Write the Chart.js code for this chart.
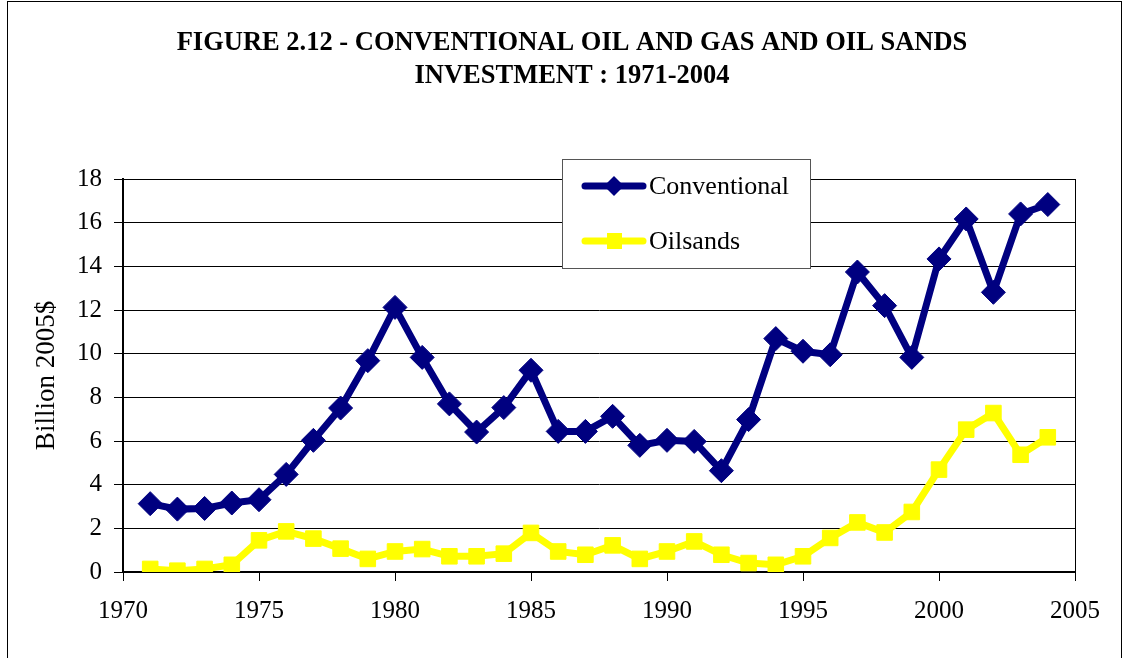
<!DOCTYPE html>
<html>
<head>
<meta charset="utf-8">
<script src="https://cdn.jsdelivr.net/npm/chart.js@4"></script>
<style>
  html, body { margin: 0; padding: 0; background: #fff; }
  #wrap { width: 1132px; height: 658px; }
</style>
</head>
<body>
<div id="wrap"><canvas id="investChart" width="1132" height="658"></canvas></div>
<script>
    // Investment data, billion 2005$
    var years = [1971, 1972, 1973, 1974, 1975, 1976, 1977, 1978, 1979, 1980,
                 1981, 1982, 1983, 1984, 1985, 1986, 1987, 1988, 1989, 1990,
                 1991, 1992, 1993, 1994, 1995, 1996, 1997, 1998, 1999, 2000,
                 2001, 2002, 2003, 2004];
    var conventional = [3.13, 2.88, 2.91, 3.16, 3.31, 4.47, 6.03, 7.51, 9.68, 12.12,
                        9.83, 7.70, 6.41, 7.53, 9.24, 6.44, 6.44, 7.13, 5.80, 6.03,
                        5.98, 4.64, 6.98, 10.69, 10.11, 9.95, 13.74, 12.20, 9.83, 14.34,
                        16.17, 12.81, 16.40, 16.83];
    var oilsands = [0.14, 0.06, 0.14, 0.33, 1.45, 1.86, 1.53, 1.07, 0.60, 0.94,
                    1.05, 0.72, 0.72, 0.84, 1.79, 0.94, 0.79, 1.22, 0.60, 0.94,
                    1.40, 0.79, 0.41, 0.33, 0.72, 1.56, 2.27, 1.81, 2.75, 4.69,
                    6.52, 7.28, 5.37, 6.17];
    var titleLines = ['FIGURE 2.12 - CONVENTIONAL OIL AND GAS AND OIL SANDS',
                      'INVESTMENT : 1971-2004'];

    function toPoints(vals) {
        return years.map(function (y, i) { return { x: y, y: vals[i] }; });
    }

    var serif = "'Liberation Serif', 'Times New Roman', serif";

    // frame, title, right border of plot, legend box
    var decor = {
        id: 'decor',
        afterDraw: function (chart) {
            var c = chart.ctx, a = chart.chartArea;
            c.save();
            c.strokeStyle = '#000';
            c.lineWidth = 1;
            c.strokeRect(7.5, 1.5, 1114, 670);

            c.beginPath();
            c.moveTo(Math.round(a.right) + 0.5, a.top);
            c.lineTo(Math.round(a.right) + 0.5, a.bottom);
            c.stroke();

            c.fillStyle = '#000';
            c.font = 'bold 26.5px ' + serif;
            c.textAlign = 'center';
            c.textBaseline = 'middle';
            c.fillText(titleLines[0], 572, 43);
            c.fillText(titleLines[1], 572, 76);

            // legend
            c.fillStyle = '#fff';
            c.fillRect(562, 159, 248, 109);
            c.strokeStyle = '#555';
            c.strokeRect(562.5, 159.5, 248, 109);
            var rows = [186, 241];
            chart.data.datasets.forEach(function (ds, i) {
                var y = rows[i];
                c.strokeStyle = ds.borderColor;
                c.lineWidth = 7;
                c.lineCap = 'round';
                c.beginPath();
                c.moveTo(585, y);
                c.lineTo(643, y);
                c.stroke();
                c.fillStyle = ds.borderColor;
                c.beginPath();
                if (ds.pointStyle === 'rectRot') {
                    c.moveTo(614, y - 10); c.lineTo(624, y); c.lineTo(614, y + 10); c.lineTo(604, y);
                } else {
                    c.rect(607, y - 8, 15, 16);
                }
                c.closePath();
                c.fill();
                c.fillStyle = '#000';
                c.font = '26px ' + serif;
                c.textAlign = 'left';
                c.fillText(ds.label, 649, y + 1);
            });
            c.restore();
        }
    };

    var ctx = document.getElementById('investChart').getContext('2d');

    var investChart = new Chart(ctx, {
        type: 'line',
        data: {
            datasets: [{
                label: 'Conventional',
                data: toPoints(conventional),
                borderColor: '#000080',
                backgroundColor: '#000080',
                borderWidth: 7,
                pointStyle: 'rectRot',
                pointRadius: 12,
                pointBorderWidth: 1,
                tension: 0
            }, {
                label: 'Oilsands',
                data: toPoints(oilsands),
                borderColor: '#FFFF00',
                backgroundColor: '#FFFF00',
                borderWidth: 7,
                pointStyle: 'rect',
                pointRadius: 11,
                pointBorderWidth: 1,
                tension: 0
            }]
        },
        options: {
            responsive: false,
            animation: false,
            layout: { padding: { left: 0, top: 179, right: 57, bottom: 0 } },
            plugins: {
                legend: { display: false },
                tooltip: { enabled: false }
            },
            scales: {
                x: {
                    type: 'linear',
                    min: 1970,
                    max: 2005,
                    afterFit: function (s) { s.height = 86; },
                    ticks: {
                        stepSize: 5,
                        color: '#000',
                        font: { family: serif, size: 25 },
                        padding: 15,
                        callback: function (v) { return String(v); }
                    },
                    grid: {
                        drawOnChartArea: false,
                        tickLength: 9,
                        color: '#000'
                    },
                    border: { color: '#000', width: 2 }
                },
                y: {
                    min: 0,
                    max: 18,
                    afterFit: function (s) { s.width = 123; },
                    ticks: {
                        stepSize: 2,
                        color: '#000',
                        font: { family: serif, size: 25 },
                        padding: 12
                    },
                    grid: {
                        color: '#000',
                        lineWidth: 1,
                        tickLength: 9
                    },
                    border: { color: '#000', width: 2 },
                    title: {
                        display: true,
                        text: 'Billion 2005$',
                        color: '#000',
                        font: { family: serif, size: 27 },
                        padding: { top: 31, bottom: 0 }
                    }
                }
            }
        },
        plugins: [decor]
    });
</script>
</body>
</html>
